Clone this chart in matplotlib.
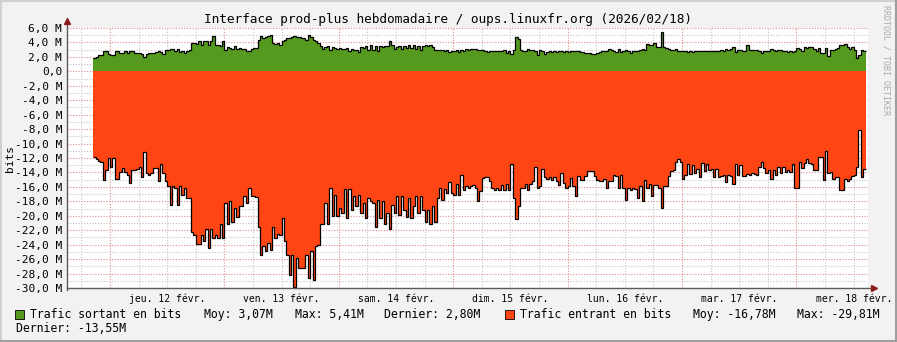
import matplotlib
matplotlib.use('Agg')
import matplotlib.pyplot as plt
from matplotlib.lines import Line2D
import numpy as np

plt.rcParams['font.family'] = ['DejaVu Sans Mono']

# one sample every 30 min, first one on Wed 11 Feb 20:30 (hours counted from Thu 12 Feb 00:00)
start_h = -3.5
step_h = 0.5

# outgoing traffic, Mbit/s
sortant = [
    1.85, 1.95, 2.2, 2.3, 2.85, 2.85, 2.4, 2.3, 2.3, 2.85, 2.75, 2.6, 2.6, 2.75, 2.6, 2.8, 2.85, 2.55,
    2.5, 2.55, 2.4, 2.0, 2.4, 2.55, 2.55, 2.6, 2.7, 2.8, 2.7, 2.4, 2.9, 3.0, 3.1, 3.05, 2.85, 3.1,
    2.65, 2.8, 2.6, 2.85, 3.0, 3.9, 3.95, 3.8, 4.25, 3.7, 4.25, 4.2, 3.7, 4.25, 4.85, 3.7, 3.6,
    3.47, 4.16, 3.0, 3.3, 3.2, 3.15, 3.45, 3.15, 3.25, 3.15, 3.1, 2.85, 2.8, 3.15, 3.2, 3.25, 4.4, 4.85,
    4.6, 4.7, 4.85, 5.0, 3.95, 3.8, 3.95, 3.7, 4.15, 4.4, 4.55, 4.65, 4.7, 4.85, 4.75, 4.7, 4.6, 4.55,
    4.4, 5.05, 4.7, 4.4, 4.25, 3.95, 3.5, 3.15, 3.4, 3.5, 3.0, 3.35, 3.2, 3.1, 3.25, 3.15, 3.15, 3.2, 2.85,
    3.1, 3.0, 3.0, 2.7, 3.35, 3.25, 3.45, 3.0, 3.6, 2.9, 3.45, 2.85, 3.45, 3.3, 3.45, 3.45, 4.15, 3.6,
    3.15, 3.3, 3.45, 3.15, 3.45, 3.25, 3.6, 3.25, 3.6, 3.15, 3.45, 3.0, 3.45, 3.6, 3.5, 3.6, 3.3, 3.0,
    3.0, 2.9, 3.0, 2.8, 3.0, 2.7, 2.85, 2.8, 3.0, 2.7, 3.0, 2.8, 3.15, 3.0, 3.15, 3.1, 3.1, 3.0, 3.0,
    3.0, 2.87, 2.7, 2.77, 2.8, 2.87, 2.87, 2.77, 2.87, 3.0, 2.6, 2.87, 2.45, 3.0, 4.7, 4.5, 3.0, 2.77,
    2.77, 3.1, 3.0, 2.9, 2.87, 2.3, 3.0, 2.87, 2.4, 2.7, 2.77, 2.7, 2.87, 2.7, 2.77, 2.87, 2.7, 2.87,
    2.7, 2.87, 2.77, 2.77, 2.77, 2.7, 2.68, 2.6, 2.55, 2.5, 2.35, 2.45, 2.55, 2.68, 2.77, 2.77, 2.77, 3.1, 3.0,
    2.77, 2.68, 3.14, 2.68, 2.77, 3.0, 2.77, 2.54, 2.77, 2.77, 2.87, 3.0, 3.14, 3.0, 3.79, 3.7, 3.6, 3.93,
    3.4, 3.33, 5.41, 3.33, 3.24, 3.14, 3.0, 3.0, 3.14, 2.77, 2.87, 2.87, 2.77, 2.68, 2.87, 2.68, 2.87, 2.77,
    2.87, 2.87, 2.77, 2.77, 2.77, 2.8, 2.87, 2.77, 2.87, 3.0, 2.87, 3.14, 3.0, 3.14, 3.33, 2.68, 3.0, 3.0,
    2.87, 2.87, 3.6, 3.0, 3.0, 2.9, 3.0, 2.77, 2.6, 2.87, 2.87, 2.77, 3.14, 3.0, 2.77, 2.9, 3.0, 2.77,
    2.87, 2.68, 2.77, 2.68, 2.77, 3.24, 3.14, 2.77, 3.33, 3.24, 3.33, 3.33, 3.14, 2.77, 3.24, 2.54, 2.54, 3.24,
    2.08, 3.0, 3.0, 3.14, 3.24, 3.6, 3.7, 3.79, 3.33, 3.14, 3.33, 3.0, 1.85, 2.31, 3.0, 2.8,
]

# incoming traffic, Mbit/s (drawn negative)
entrant = [
    -11.9, -12.2, -12.4, -12.5, -15.1, -13.7, -12.0, -13.2, -12.0, -14.9, -14.9, -14.0, -13.4, -14.0,
    -14.3, -15.5, -13.7, -13.6, -13.5, -13.3, -14.7, -11.2, -14.1, -14.3, -14.1, -13.4, -13.4, -15.2,
    -12.9, -14.1, -15.2, -15.9, -18.5, -15.9, -16.1, -18.5, -15.9, -17.1, -16.1, -17.5, -17.5, -22.2,
    -22.6, -23.9, -23.9, -22.6, -23.5, -21.8, -24.4, -21.8, -23.1, -22.7, -23.1,
    -21.1, -23.1, -18.2, -21.2, -18.0, -20.8, -18.9, -20.2, -18.7, -18.7, -17.3, -18.2, -16.1, -17.3,
    -17.3, -17.4, -21.5, -25.5, -24.2, -24.9, -23.8, -24.7, -21.5, -23.1, -22.5, -22.7, -20.3, -23.5,
    -25.4, -28.2, -25.4, -29.81, -25.8, -27.2, -27.2, -27.2, -25.4, -28.6, -24.9, -28.9, -24.2, -24.1,
    -21.2, -21.1, -18.2, -21.1, -16.2, -20.1, -17.1, -20.1, -18.9, -19.6, -16.3, -20.3, -16.3,
    -19.2, -17.3, -18.7, -17.1, -19.6, -18.2, -20.3, -17.5, -18.0, -18.2, -21.6, -17.8, -20.3, -17.9,
    -21.1, -19.6, -21.8, -18.5, -19.6, -17.3, -19.9, -17.3, -19.2, -20.2, -17.5, -20.3, -18.7, -17.3,
    -19.6, -17.3, -19.2, -20.8, -19.2, -21.2, -18.7, -20.9, -17.5, -16.2, -17.8, -16.3, -16.9, -15.3,
    -16.9, -17.1, -15.6, -17.1, -14.3, -16.4, -15.9, -16.2, -15.9, -15.7, -16.2, -17.9, -16.6,
    -14.8, -14.7, -14.7, -15.2, -16.1, -16.4, -16.2, -16.4, -15.7, -16.5, -15.6, -16.5, -12.9, -17.5,
    -20.5, -18.7, -16.2, -16.1, -15.6, -16.5, -15.6, -15.2, -13.3, -16.2, -15.9, -13.5, -14.7, -14.9,
    -14.7, -15.0, -14.7, -15.2, -15.7, -14.1, -15.5, -16.1, -15.9, -14.8, -15.9, -17.3, -14.5, -15.0,
    -15.0, -14.5, -13.8, -13.8, -13.8, -14.5, -15.0, -15.2, -15.2, -14.9, -16.1, -15.2, -15.2,
    -14.3, -14.5, -16.2, -14.4, -16.1, -17.8, -16.2, -16.5, -16.1, -16.3, -17.5, -15.9, -17.9, -15.0,
    -16.2, -15.6, -17.2, -15.8, -15.8, -16.2, -18.9, -15.9, -15.9, -14.5, -13.8, -13.7, -12.6, -12.1,
    -12.6, -14.9, -14.3, -12.9, -14.2, -13.0, -14.1, -13.5, -14.7, -12.7, -13.8, -12.8, -13.6, -13.5,
    -14.7, -13.5, -14.7, -14.5, -14.4, -15.3, -14.3, -14.5, -15.6, -12.8, -14.3, -13.0,
    -14.5, -14.5, -14.2, -14.4, -14.1, -14.2, -14.3, -13.2, -12.5, -13.4, -14.1, -13.6, -14.9, -13.7,
    -14.3, -13.3, -14.1, -13.3, -13.9, -13.6, -13.9, -12.8, -16.1, -16.1, -12.5, -13.4, -12.7, -12.2,
    -12.7, -12.9, -13.6, -13.6, -11.9, -11.8, -15.0, -11.0, -14.1, -13.9, -14.9, -14.7, -14.7, -16.4,
    -16.4, -14.9, -15.2, -14.9, -14.5, -14.4, -13.3, -8.1, -14.7, -13.55,
]

jours = ['jeu. 12 févr.', 'ven. 13 févr.', 'sam. 14 févr.', 'dim. 15 févr.',
         'lun. 16 févr.', 'mar. 17 févr.', 'mer. 18 févr.']
yticks = [6, 4, 2, 0, -2, -4, -6, -8, -10, -12, -14, -16, -18, -20, -22, -24, -26, -28, -30]
ylabels = ['6,0 M', '4,0 M', '2,0 M', '0,0', '-2,0 M', '-4,0 M', '-6,0 M', '-8,0 M', '-10,0 M',
           '-12,0 M', '-14,0 M', '-16,0 M', '-18,0 M', '-20,0 M', '-22,0 M', '-24,0 M', '-26,0 M',
           '-28,0 M', '-30,0 M']

vert = '#55991F'
orange = '#FF4513'

W, H = 897, 342
fig = plt.figure(figsize=(W / 100, H / 100), dpi=100, facecolor='#F2F2F2')
ax = fig.add_axes([67 / W, 1 - 288 / H, 801 / W, 260 / H])
ax.set_facecolor('white')
x0, x1 = -9, 159
ax.set_xlim(x0, x1)
ax.set_ylim(-30, 6)
for s in ax.spines.values():
    s.set_visible(False)

# grid (rrdtool style: grey minor, red major, dotted)
for h in np.arange(-6, x1, 6):
    major = (h % 24 == 0)
    ax.axvline(h, color='#E58A8A' if major else '#C4C4C4', lw=0.8,
               ls=(0, (1, 1.5)), zorder=0)
for v in range(-30, 7):
    major = (v % 2 == 0)
    ax.axhline(v, color='#E58A8A' if major else '#C4C4C4', lw=0.8,
               ls=(0, (1, 1.5)), zorder=0)

edges = start_h + step_h * np.arange(len(sortant) + 1)
ax.stairs(sortant, edges, baseline=0, fill=True, color=vert, lw=0, zorder=2)
ax.stairs(entrant, edges, baseline=0, fill=True, color=orange, lw=0, zorder=2)
ax.stairs(sortant, edges, baseline=None, color='black', lw=0.9, zorder=3)
ax.stairs(entrant, edges, baseline=None, color='black', lw=0.9, zorder=3)

# axes with arrows
axis_col = '#5A5A5A'
ax.plot([x0, x1 + 1.0], [-30, -30], color=axis_col, lw=1, clip_on=False, zorder=4)
ax.plot([x0, x0], [-30.3, 6.7], color=axis_col, lw=1, clip_on=False, zorder=4)
ax.plot([x1 + 1.3], [-30], marker='>', ms=4, color='#8B1A1A', clip_on=False, zorder=5)
ax.plot([x0], [6.9], marker='^', ms=4, color='#8B1A1A', clip_on=False, zorder=5)

ax.set_xticks([12 + 24 * i for i in range(len(jours))])
ax.set_xticklabels(jours, fontsize=7)
ax.tick_params(axis='x', length=0, pad=4)
ax.set_yticks(yticks)
ax.set_yticklabels(ylabels, fontsize=8)
ax.tick_params(axis='y', length=0, pad=3.5)

fig.text(10 / W, 1 - 158 / H, 'bits', rotation=90, ha='center', va='center', fontsize=8)
fig.text(448 / W, 1 - 19 / H, 'Interface prod-plus hebdomadaire / oups.linuxfr.org (2026/02/18)',
         ha='center', va='center', fontsize=9.2)
fig.text(886 / W, 1 - 5 / H, 'RRDTOOL / TOBI OETIKER', rotation=270, ha='center', va='top',
         fontsize=6, color='#AAAAAA')

# legend
ly1 = 1 - 314.5 / H
ly2 = 1 - 328 / H
fs = 8.3
fig.patches.append(plt.Rectangle((15 / W, 1 - 319 / H), 9 / W, 9 / H, transform=fig.transFigure,
                                 facecolor=vert, edgecolor='black', lw=0.6))
fig.patches.append(plt.Rectangle((505 / W, 1 - 319 / H), 9 / W, 9 / H, transform=fig.transFigure,
                                 facecolor=orange, edgecolor='black', lw=0.6))
legend_items = [
    (30, ly1, 'Trafic sortant en bits'), (204, ly1, 'Moy: 3,07M'), (295, ly1, 'Max: 5,41M'),
    (384, ly1, 'Dernier: 2,80M'), (520, ly1, 'Trafic entrant en bits'), (693, ly1, 'Moy: -16,78M'),
    (797, ly1, 'Max: -29,81M'), (16, ly2, 'Dernier: -13,55M'),
]
for x, y, t in legend_items:
    fig.text(x / W, y, t, ha='left', va='center', fontsize=fs)

# frame
fig.add_artist(Line2D([0, 1], [1 - 1 / H, 1 - 1 / H], transform=fig.transFigure, color='#D0D0D0', lw=1.5))
fig.add_artist(Line2D([1 / W, 1 / W], [0, 1], transform=fig.transFigure, color='#D0D0D0', lw=1.5))
fig.add_artist(Line2D([0, 1], [1.5 / H, 1.5 / H], transform=fig.transFigure, color='#9E9E9E', lw=2.2))
fig.add_artist(Line2D([1 - 1.5 / W, 1 - 1.5 / W], [0, 1], transform=fig.transFigure, color='#9E9E9E', lw=2.2))

fig.savefig('out.png', dpi=100, facecolor=fig.get_facecolor())
